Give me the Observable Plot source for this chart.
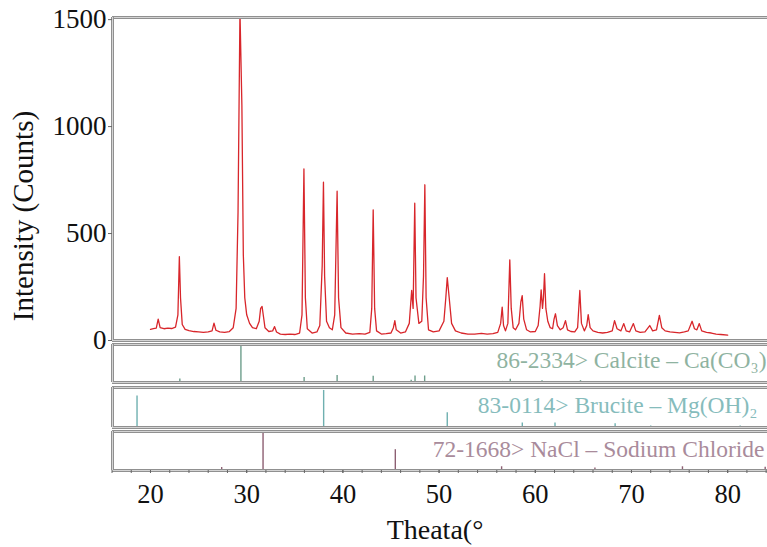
<!DOCTYPE html>
<html>
<head>
<meta charset="utf-8">
<script src="https://cdn.jsdelivr.net/npm/d3@7"></script>
<script src="https://cdn.jsdelivr.net/npm/@observablehq/plot@0.6"></script>
<style>
  html, body { margin: 0; padding: 0; background: #fff; }
  #chart { position: relative; width: 767px; background: #fff; }
  #chart svg { display: block; position: relative; }
  #chart svg.first { overflow: visible; z-index: 2; background: transparent !important; }
  #chart svg.panel { background: transparent !important; z-index: 1; }
</style>
</head>
<body>
<div id="chart"></div>
<script>
// ---- data ----
const traceTheta = [
  20.0, 20.3, 20.6, 20.8, 21.0, 21.4, 21.8, 22.2, 22.6, 22.85, 23.0, 23.12, 23.3, 23.6, 24.0, 24.5, 25.0, 25.5, 26.0, 26.4,
  26.6, 26.8, 27.2, 27.7, 28.2, 28.6, 28.9, 29.1, 29.3, 29.5, 29.65, 29.8, 30.0, 30.3, 30.6, 31.0, 31.3, 31.45, 31.6, 31.75,
  31.9, 32.3, 32.7, 32.9, 33.1, 33.5, 34.0, 34.5, 35.0, 35.5, 35.75, 35.95, 36.1, 36.3, 36.8, 37.3, 37.6, 37.85, 37.98, 38.1,
  38.3, 38.6, 38.9, 39.15, 39.4, 39.55, 39.8, 40.3, 41.0, 41.7, 42.3, 42.8, 43.0, 43.15, 43.3, 43.5, 44.0, 44.5, 45.0, 45.25,
  45.4, 45.55, 46.0, 46.5, 46.9, 47.15, 47.3, 47.47, 47.6, 47.9, 48.2, 48.38, 48.52, 48.65, 48.9, 49.4, 50.0, 50.5, 50.7, 50.85,
  51.05, 51.3, 51.7, 52.3, 53.0, 53.7, 54.4, 55.0, 55.6, 56.1, 56.4, 56.56, 56.7, 56.9, 57.15, 57.35, 57.5, 57.7, 57.95, 58.3,
  58.5, 58.64, 58.8, 59.1, 59.5, 60.0, 60.3, 60.5, 60.61, 60.75, 60.85, 60.96, 61.1, 61.3, 61.55, 61.8, 61.95, 62.1, 62.3, 62.6,
  62.9, 63.14, 63.35, 63.7, 64.1, 64.4, 64.63, 64.8, 65.1, 65.35, 65.5, 65.7, 66.0, 66.5, 67.0, 67.5, 68.0, 68.24, 68.5, 68.9,
  69.2, 69.45, 69.8, 70.2, 70.45, 70.9, 71.4, 71.9, 72.2, 72.6, 72.9, 73.15, 73.5, 74.0, 74.5, 75.0, 75.5, 75.9, 76.3, 76.55,
  76.8, 77.05, 77.3, 77.8, 78.3, 78.8, 79.3, 80.0
];
const traceCounts = [
  52, 55, 58, 100, 60, 55, 58, 56, 62, 120, 392, 200, 75, 52, 46, 42, 40, 38, 40, 45,
  81, 48, 40, 38, 42, 60, 150, 600, 1540, 1100, 400, 200, 120, 80, 60, 55, 90, 150, 159, 110,
  60, 42, 45, 65, 40, 30, 28, 30, 28, 35, 120, 802, 200, 55, 35, 40, 70, 350, 740, 300,
  90, 60, 50, 120, 698, 200, 60, 35, 30, 32, 30, 38, 150, 611, 150, 45, 30, 32, 35, 60,
  93, 50, 35, 40, 80, 234, 150, 642, 200, 80, 90, 300, 728, 200, 50, 40, 45, 90, 200, 294,
  200, 80, 45, 35, 30, 30, 33, 30, 32, 38, 80, 156, 70, 45, 80, 377, 150, 60, 50, 80,
  180, 210, 100, 50, 40, 42, 70, 160, 237, 150, 200, 312, 150, 90, 60, 55, 100, 125, 70, 50,
  60, 93, 50, 42, 40, 60, 234, 80, 45, 70, 121, 60, 45, 38, 35, 38, 45, 93, 55, 45,
  79, 45, 40, 79, 45, 38, 40, 70, 45, 50, 117, 60, 45, 40, 38, 36, 40, 45, 90, 55,
  50, 79, 45, 38, 35, 30, 28, 25
];

const calciteTheta = [23.05, 29.4, 31.45, 35.97, 39.4, 43.15, 47.1, 47.5, 48.5, 56.6, 57.4, 58.1, 60.7, 61.0, 61.4, 63.1, 64.7, 65.6, 69.2, 70.2, 72.9, 73.7, 76.3, 77.1, 81.5, 83.8];
const calciteRel   = [10, 100, 2, 14, 19, 17, 6, 18, 18, 3, 9, 2, 5, 3, 3, 2, 5, 3, 2, 2, 2, 2, 2, 3, 2, 3];

const bruciteTheta = [18.6, 32.8, 38.0, 50.85, 58.65, 62.05, 68.3, 72.0, 81.3];
const bruciteRel   = [85, 2, 100, 40, 12, 12, 10, 4, 4];

const naclTheta = [27.4, 31.7, 45.45, 53.9, 56.5, 66.2, 75.3, 83.9];
const naclRel   = [8, 100, 56, 2, 10, 7, 10, 9];

const yTicks = [0, 500, 1000, 1500];
const xMajorTicks = [20, 30, 40, 50, 60, 70, 80];
const xMinorTicks = d3.range(16, 85, 2);

const calciteLabel = "86-2334> Calcite – Ca(CO₃)";
const bruciteLabel = "83-0114> Brucite – Mg(OH)₂";
const naclLabel = "72-1668> NaCl – Sodium Chloride";
const yTitle = "Intensity (Counts)";
const xTitle = "Theata(°";

// ---- layout ----
const W = 767;
const X_DOMAIN = [16.05, 84.14];
const FONT = "Liberation Serif";
const BORDER = "#909090";

const trace = traceTheta.map((t, i) => ({t, c: traceCounts[i]}));
const sticks = (th, rel) => th.map((t, i) => ({t, r: rel[i]}));

function borders(yTop, yBottom) {
  return [
    Plot.ruleY([yTop], {stroke: BORDER, strokeWidth: 3}),
    Plot.ruleY([yTop], {stroke: "#e6e6e6", strokeWidth: 0.8}),
    Plot.ruleY([yBottom], {stroke: BORDER, strokeWidth: 3}),
    Plot.ruleY([yBottom], {stroke: "#e6e6e6", strokeWidth: 0.8}),
    Plot.ruleX([X_DOMAIN[0]], {stroke: BORDER, strokeWidth: 3}),
    Plot.ruleX([X_DOMAIN[0]], {stroke: "#e6e6e6", strokeWidth: 0.8})
  ];
}

const base = {
  width: W,
  marginLeft: 112,
  marginRight: 0,
  x: {domain: X_DOMAIN, axis: null},
  style: {fontFamily: FONT, background: "transparent", color: "#111"}
};

const main = Plot.plot({
  ...base,
  height: 342,
  marginTop: 17,
  marginBottom: 2,
  y: {domain: [0, 1510], axis: null},
  marks: [
    Plot.line(trace, {x: "t", y: "c", stroke: "#d8262b", strokeWidth: 1.3, clip: true}),
    ...borders(1510, 0),
    Plot.axisY({ticks: yTicks, tickSize: 4, tickPadding: 2, fontSize: 27, fontFamily: FONT, label: null, stroke: "#666", fill: "#111", tickFormat: d3.format("d")}),
    Plot.text([yTitle], {frameAnchor: "left", textAnchor: "middle", dx: -89, dy: 37, rotate: -90, fontSize: 29, fontFamily: FONT, fill: "#111"})
  ]
});
main.classList.add("first");

const calcite = Plot.plot({
  ...base,
  height: 43,
  marginTop: 2,
  marginBottom: 3,
  y: {domain: [0, 105], axis: null},
  marks: [
    Plot.ruleX(sticks(calciteTheta, calciteRel), {x: "t", y1: 0, y2: "r", stroke: "#6e9e8c", strokeWidth: 1.4}),
    ...borders(105, 0),
    Plot.text([calciteLabel], {frameAnchor: "right", textAnchor: "end", dx: -1, dy: -3, fontSize: 23.5, fontFamily: FONT, fill: "#8fb3a1"})
  ]
});

const brucite = Plot.plot({
  ...base,
  height: 44,
  marginTop: 2,
  marginBottom: 2,
  y: {domain: [0, 108], axis: null},
  marks: [
    Plot.ruleX(sticks(bruciteTheta, bruciteRel), {x: "t", y1: 0, y2: "r", stroke: "#6fb0b0", strokeWidth: 1.4}),
    ...borders(108, 0),
    Plot.text([bruciteLabel], {frameAnchor: "right", textAnchor: "end", dx: -10, dy: -2, fontSize: 23.5, fontFamily: FONT, fill: "#86bcbc"})
  ]
});

const nacl = Plot.plot({
  ...base,
  height: 118,
  marginTop: 2,
  marginBottom: 77,
  y: {domain: [0, 105], axis: null},
  marks: [
    Plot.ruleX(sticks(naclTheta, naclRel), {x: "t", y1: 0, y2: "r", stroke: "#8d5f72", strokeWidth: 1.4}),
    ...borders(105, 0),
    Plot.text([naclLabel], {frameAnchor: "right", textAnchor: "end", dx: -3, dy: -2, fontSize: 23.5, fontFamily: FONT, fill: "#a98b9b"}),
    Plot.axisX({ticks: xMinorTicks, tickSize: 3, tickFormat: () => "", label: null, stroke: "#666"}),
    Plot.axisX({ticks: xMajorTicks, tickSize: 3, tickPadding: 11, fontSize: 26.5, fontFamily: FONT, label: null, stroke: "#666", fill: "#111", tickFormat: d3.format("d")}),
    Plot.text([xTitle], {frameAnchor: "bottom", textAnchor: "middle", lineAnchor: "middle", dx: -5, dy: 60, fontSize: 28, fontFamily: FONT, fill: "#111"})
  ]
});
[calcite, brucite, nacl].forEach(s => s.classList.add("panel"));

const root = document.getElementById("chart");
root.append(main, calcite, brucite, nacl);
</script>
</body>
</html>
